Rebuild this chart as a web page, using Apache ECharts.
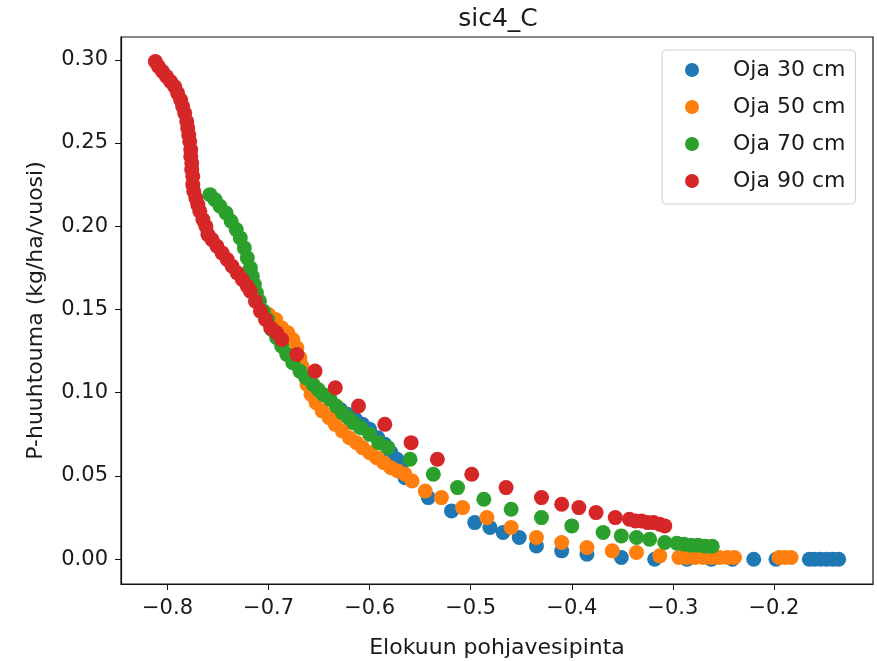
<!DOCTYPE html>
<html>
<head>
<meta charset="utf-8">
<script src="https://cdn.jsdelivr.net/npm/echarts@6/dist/echarts.min.js"></script>
<style>
html,body{margin:0;padding:0;background:#fff;}
#chart{width:877px;height:661px;}
</style>
</head>
<body>
<div id="chart"></div>
<script>
const titleText = 'sic4_C';
const xAxisName = 'Elokuun pohjavesipinta';
const yAxisName = 'P-huuhtouma (kg/ha/vuosi)';
const seriesNames = ['Oja 30 cm', 'Oja 50 cm', 'Oja 70 cm', 'Oja 90 cm'];
const seriesColors = ['#1f77b4', '#ff7f0e', '#2ca02c', '#d62728'];
const xTicks = [-0.8, -0.7, -0.6, -0.5, -0.4, -0.3, -0.2];
const yTicks = [0.00, 0.05, 0.10, 0.15, 0.20, 0.25, 0.30];

const oja30 = [
  [-0.629,0.090],[-0.622,0.087],[-0.614,0.084],[-0.607,0.081],[-0.600,0.078],[-0.592,0.073],
  [-0.585,0.069],[-0.579,0.064],[-0.573,0.060],[-0.569,0.055],[-0.565,0.049],[-0.542,0.037],
  [-0.519,0.029],[-0.496,0.022],[-0.481,0.019],[-0.468,0.016],[-0.452,0.013],[-0.435,0.008],
  [-0.410,0.005],[-0.385,0.003],[-0.351,0.001],[-0.318,0.000],[-0.286,0.000],[-0.262,0.000],
  [-0.241,0.000],[-0.220,0.000],[-0.198,0.000],[-0.165,0.000],[-0.160,0.000],[-0.154,0.000],
  [-0.148,0.000],[-0.142,0.000],[-0.136,0.000]
];
const oja50 = [
  [-0.700,0.147],[-0.693,0.144],[-0.687,0.139],[-0.681,0.136],[-0.676,0.132],[-0.672,0.127],
  [-0.669,0.121],[-0.667,0.116],[-0.665,0.111],[-0.662,0.105],[-0.658,0.099],[-0.653,0.094],
  [-0.647,0.089],[-0.640,0.085],[-0.634,0.081],[-0.627,0.077],[-0.620,0.073],[-0.613,0.070],
  [-0.607,0.067],[-0.600,0.064],[-0.593,0.061],[-0.586,0.058],[-0.579,0.055],[-0.572,0.053],
  [-0.565,0.051],[-0.558,0.047],[-0.545,0.041],[-0.529,0.037],[-0.508,0.031],[-0.484,0.025],
  [-0.460,0.019],[-0.435,0.013],[-0.410,0.010],[-0.385,0.007],[-0.360,0.005],[-0.336,0.004],
  [-0.313,0.002],[-0.294,0.001],[-0.286,0.001],[-0.278,0.001],[-0.270,0.001],[-0.262,0.001],
  [-0.254,0.001],[-0.246,0.001],[-0.239,0.001],[-0.195,0.001],[-0.189,0.001],[-0.183,0.001]
];
const oja70 = [
  [-0.758,0.219],[-0.753,0.216],[-0.748,0.212],[-0.742,0.208],[-0.737,0.203],[-0.732,0.198],
  [-0.728,0.193],[-0.724,0.187],[-0.721,0.181],[-0.718,0.175],[-0.716,0.170],[-0.714,0.165],
  [-0.712,0.160],[-0.709,0.155],[-0.705,0.149],[-0.701,0.144],[-0.697,0.138],[-0.692,0.133],
  [-0.687,0.128],[-0.682,0.123],[-0.676,0.118],[-0.669,0.113],[-0.663,0.109],[-0.656,0.105],
  [-0.651,0.102],[-0.646,0.099],[-0.639,0.096],[-0.633,0.092],[-0.627,0.088],[-0.621,0.085],
  [-0.616,0.082],[-0.609,0.079],[-0.600,0.075],[-0.591,0.070],[-0.582,0.067],[-0.560,0.060],
  [-0.537,0.051],[-0.513,0.043],[-0.487,0.036],[-0.460,0.030],[-0.430,0.025],[-0.400,0.020],
  [-0.369,0.016],[-0.351,0.014],[-0.336,0.013],[-0.323,0.012],[-0.308,0.010],[-0.296,0.0096],
  [-0.289,0.009],[-0.282,0.0084],[-0.275,0.0084],[-0.268,0.0078],[-0.261,0.0078]
];
const oja90 = [
  [-0.812,0.299],[-0.809,0.296],[-0.805,0.293],[-0.801,0.290],[-0.797,0.287],[-0.793,0.284],
  [-0.790,0.280],[-0.787,0.276],[-0.785,0.272],[-0.783,0.268],[-0.781,0.263],[-0.780,0.259],
  [-0.779,0.255],[-0.778,0.251],[-0.777,0.246],[-0.777,0.242],[-0.776,0.238],[-0.776,0.234],
  [-0.775,0.230],[-0.775,0.225],[-0.774,0.221],[-0.772,0.217],[-0.770,0.213],[-0.768,0.209],
  [-0.765,0.204],[-0.762,0.200],[-0.760,0.195],[-0.756,0.192],[-0.751,0.188],[-0.746,0.184],
  [-0.741,0.180],[-0.736,0.176],[-0.731,0.172],[-0.726,0.168],[-0.721,0.164],[-0.718,0.161],
  [-0.713,0.155],[-0.708,0.149],[-0.703,0.144],[-0.698,0.139],[-0.692,0.136],[-0.687,0.132],
  [-0.672,0.123],[-0.654,0.113],[-0.634,0.103],[-0.611,0.092],[-0.585,0.081],[-0.559,0.070],
  [-0.533,0.060],[-0.499,0.051],[-0.465,0.043],[-0.430,0.037],[-0.410,0.033],[-0.393,0.031],
  [-0.376,0.028],[-0.357,0.025],[-0.343,0.024],[-0.337,0.023],[-0.331,0.023],[-0.325,0.022],
  [-0.319,0.022],[-0.313,0.021],[-0.308,0.020]
];
const seriesData = [oja30, oja50, oja70, oja90];

const FONT = 'DejaVu Sans';
const TXT = '#1a1a1a';
const chart = echarts.init(document.getElementById('chart'), null, {renderer: 'canvas'});
const minus = v => String(v).replace('-', '\u2212');

chart.setOption({
  animation: false,
  backgroundColor: '#fff',
  title: {
    text: titleText,
    left: 493, textAlign: 'center', top: 2,
    textStyle: {fontFamily: FONT, fontSize: 25, fontWeight: 'normal', color: TXT}
  },
  grid: {left: 121, right: 4, top: 37, bottom: 77, show: true, borderColor: '#111', borderWidth: 1.2,
    backgroundColor: '#fff', outerBoundsMode: 'none', containLabel: false},
  legend: {
    orient: 'vertical',
    left: 662, top: 50,
    padding: [9, 10, 12, 23],
    itemGap: 15,
    itemWidth: 14, itemHeight: 14,
    icon: 'circle',
    backgroundColor: 'rgba(255,255,255,0.85)',
    borderColor: '#d0d0d0', borderWidth: 1, borderRadius: 4,
    data: seriesNames,
    textStyle: {fontFamily: FONT, fontSize: 22, color: TXT, lineHeight: 20, padding: [0, 0, 0, 29]}
  },
  xAxis: {
    type: 'value',
    min: -0.846, max: -0.102,
    name: xAxisName, nameLocation: 'middle', nameGap: 53,
    nameTextStyle: {fontFamily: FONT, fontSize: 22, color: TXT},
    axisLine: {show: true, onZero: false, lineStyle: {color: '#111', width: 1.2}},
    axisTick: {show: true, length: 6, customValues: xTicks, lineStyle: {color: '#111'}},
    axisLabel: {customValues: xTicks, margin: 14, fontFamily: FONT, fontSize: 21, color: TXT,
      formatter: v => minus(v.toFixed(1))},
    splitLine: {show: false}
  },
  yAxis: {
    type: 'value',
    min: -0.0149, max: 0.3137,
    name: yAxisName, nameLocation: 'middle', nameGap: 74,
    nameTextStyle: {fontFamily: FONT, fontSize: 22, color: TXT},
    axisLine: {show: true, onZero: false, lineStyle: {color: '#111', width: 1.2}},
    axisTick: {show: true, length: 6, customValues: yTicks, lineStyle: {color: '#111'}},
    axisLabel: {customValues: yTicks, margin: 13, fontFamily: FONT, fontSize: 21, color: TXT,
      formatter: v => v.toFixed(2)},
    splitLine: {show: false}
  },
  series: seriesNames.map((name, i) => ({
    name: name,
    type: 'scatter',
    data: seriesData[i],
    symbol: 'circle',
    symbolSize: 15,
    itemStyle: {color: seriesColors[i], opacity: 1},
    z: 2 + i
  }))
});
</script>
</body>
</html>
